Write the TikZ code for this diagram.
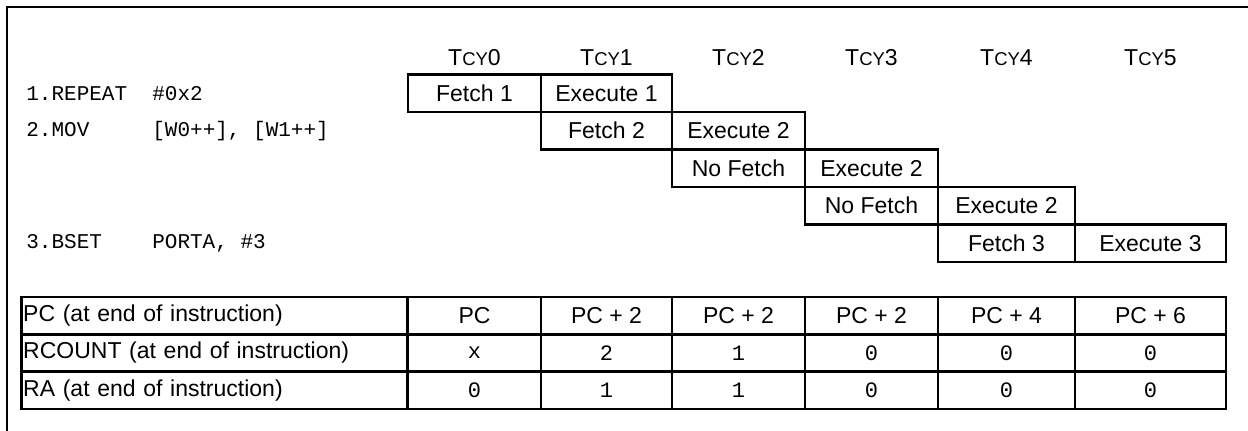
\documentclass[tikz,border=0pt]{standalone}
\usepackage{fontspec}
\setsansfont{Liberation Sans}
\setmonofont{Liberation Mono}
\usetikzlibrary{positioning}

\begin{document}
\begin{tikzpicture}[x=1pt,y=-1pt]
	\tikzstyle{every path}=[line width=2.7pt]

	\tikzstyle{cell}=[draw,minimum height=37.5pt,inner sep=0pt,outer sep=0pt,font=\sffamily\fontsize{23}{23}\selectfont]
	\tikzstyle{tcy}=[font=\sffamily\fontsize{23}{23}\selectfont]
	\tikzstyle{code}=[anchor=west,inner sep=0pt,font=\ttfamily\fontsize{21}{21}\selectfont]
	\tikzstyle{rowlbl}=[cell,minimum height=37.3pt,text width=383pt,align=left,inner xsep=1.5pt]
	\tikzstyle{val}=[cell,minimum height=37.3pt]
	\tikzstyle{valtt}=[val,font=\ttfamily\fontsize{22}{22}\selectfont]

	\useasboundingbox (0,0) rectangle (1248,431);
	%% outer frame
	\draw (1248,7) -- (7,7) -- (7,431);

	%% instructions
	\node[code] (i1) at (25,93.25) {1.REPEAT\ \ \#0x2};
	\node[code] (i2) at (25,130.75) {2.MOV\ \ \ \ \ [W0++],\ [W1++]};
	\node[code] (i3) at (25,243.25) {3.BSET\ \ \ \ PORTA,\ \#3};

	%% pipeline
	\node[cell,minimum width=133pt] (f1) at (474.5,93.25) {Fetch 1};
	\node[cell,minimum width=131pt,right=0pt of f1] (e1) {Execute 1};
	\node[cell,minimum width=131pt,below=0pt of e1] (f2) {Fetch 2};
	\node[cell,minimum width=133pt,right=0pt of f2] (e2) {Execute 2};
	\node[cell,minimum width=133pt,below=0pt of e2] (nf1) {No Fetch};
	\node[cell,minimum width=133pt,right=0pt of nf1] (e2b) {Execute 2};
	\node[cell,minimum width=133pt,below=0pt of e2b] (nf2) {No Fetch};
	\node[cell,minimum width=137pt,right=0pt of nf2] (e2c) {Execute 2};
	\node[cell,minimum width=137pt,below=0pt of e2c] (f3) {Fetch 3};
	\node[cell,minimum width=151pt,right=0pt of f3] (e3) {Execute 3};

	%% register table
	\node[rowlbl] (pcl) at (214.7,315.65) {PC (at end of instruction)};
	\node[rowlbl] (rcl) at (214.7,352.95) {RCOUNT (at end of instruction)};
	\node[rowlbl] (ral) at (214.7,390.25) {RA (at end of instruction)};
	\foreach \x/\w/\pc/\rc/\ra [count=\i from 0] in {474.5/133/PC/x/0,606.5/131/PC + 2/2/1,738.5/133/PC + 2/1/1,871.5/133/PC + 2/0/0,1006.5/137/PC + 4/0/0,1150.5/151/PC + 6/0/0}{
		\node[tcy] (tcy\i) at (\x,58) {T{\fontsize{18.5}{18.5}\selectfont CY}\i};
		\node[val,minimum width=\w pt] (pc\i) at (\x,315.65) {\pc};
		\node[valtt,minimum width=\w pt] (rc\i) at (\x,352.95) {\rc};
		\node[valtt,minimum width=\w pt] (ra\i) at (\x,390.25) {\ra};
	}

\end{tikzpicture}
\end{document}
